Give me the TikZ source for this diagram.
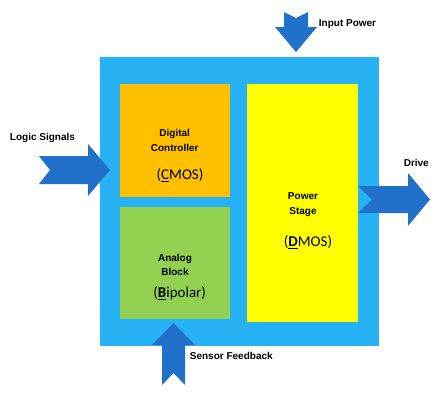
\documentclass[tikz,border=0pt]{standalone}
\usepackage{fontspec}
\setmainfont{Liberation Sans}
\newfontfamily\calib{Carlito}
\definecolor{chipblue}{HTML}{28B2F6}
\definecolor{arrowblue}{HTML}{2170C9}
\definecolor{cmosorange}{HTML}{FFC000}
\definecolor{bipgreen}{HTML}{92D050}
\definecolor{dmosyellow}{HTML}{FFFF00}
\begin{document}
\begin{tikzpicture}[x=1pt,y=-1pt,
  blockbox/.style={draw=none,inner sep=0pt,outer sep=0pt},
  lbl/.style={font=\fontsize{10}{12}\selectfont\bfseries,inner sep=0pt,anchor=base},
  ttl/.style={font=\fontsize{10}{15}\selectfont\bfseries,align=center,inner sep=0pt},
  tech/.style={font=\calib\fontsize{15}{18}\selectfont,inner sep=0pt,anchor=base},
  fatarrow/.style={fill=arrowblue,draw=none}]
\useasboundingbox (0,0) rectangle (447,400);

% chip and blocks
\node[blockbox,fill=chipblue,minimum width=279pt,minimum height=289pt] (chip) at (239.5,201.5) {};
\node[blockbox,fill=cmosorange,minimum width=110pt,minimum height=113pt] (dig) at (175,140.5) {};
\node[blockbox,fill=bipgreen,minimum width=110pt,minimum height=112pt] (ana) at (175,263) {};
\node[blockbox,fill=dmosyellow,minimum width=111pt,minimum height=238pt] (pwr) at (302.5,203) {};

% arrows
\fill[fatarrow] (39,156) -- (88,156) -- (88,144) -- (110,170) -- (88,196) -- (88,184) -- (39,184) -- (50,170) -- cycle;
\fill[fatarrow] (358,186) -- (408,186) -- (408,173) -- (430,199.5) -- (408,226) -- (408,213) -- (358,213) -- (372,199.5) -- cycle;
\fill[fatarrow] (284,12) -- (296,18) -- (308,12) -- (308,27) -- (317,27) -- (296,52) -- (275,27) -- (284,27) -- cycle;
\fill[fatarrow] (162,385) -- (173.5,373) -- (185,385) -- (185,345) -- (195,345) -- (173.5,323) -- (152,345) -- (162,345) -- cycle;

% block texts
\node[ttl] (digt) at (174.7,140.1) {Digital\\Controller};
\node[tech] (digc) at (180,179.3) {(\underline{C}MOS)};
\node[ttl,font=\fontsize{10}{14}\selectfont\bfseries] (anat) at (175,264.9) {Analog\\Block};
\node[tech] (anac) at (179.7,297.3) {(\underline{\textbf{B}}ipolar)};
\node[ttl] (pwrt) at (303,205) {Power\\Stage};
\node[tech] (pwrc) at (308,246.7) {(\underline{\textbf{D}}MOS)};

% labels
\node[lbl] (inp) at (347.5,26.7) {Input Power};
\node[lbl] (logic) at (42.5,140.7) {Logic Signals};
\node[lbl] (drive) at (416.3,166) {Drive};
\node[lbl] (sens) at (231.3,359.3) {Sensor Feedback};
\end{tikzpicture}
\end{document}
